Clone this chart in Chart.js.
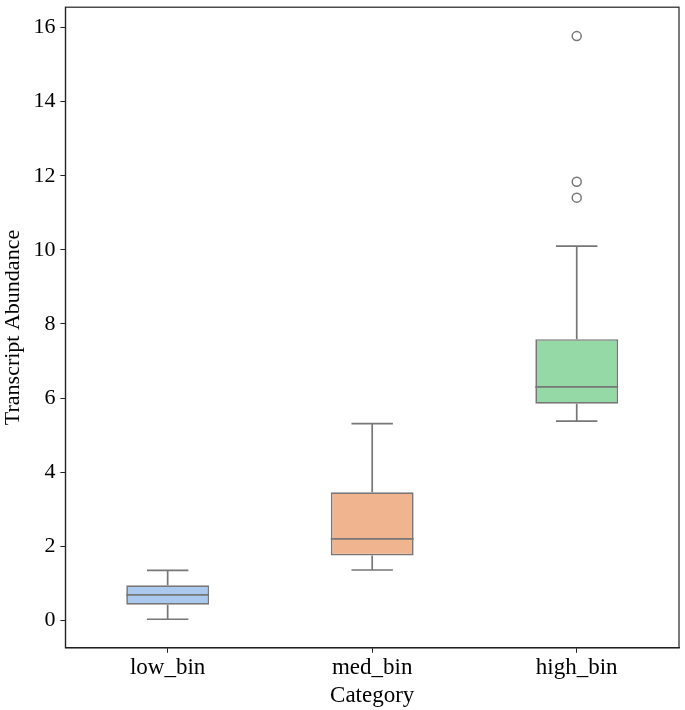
<!DOCTYPE html>
<html>
<head>
<meta charset="utf-8">
<script src="https://cdn.jsdelivr.net/npm/chart.js@4.4.1/dist/chart.umd.min.js"></script>
<style>
  html, body { margin: 0; padding: 0; background: #fff; }
  #wrap { width: 685px; height: 710px; }
</style>
</head>
<body>
<div id="wrap"><canvas id="boxChart"></canvas></div>
<script>
const categories = ['low_bin', 'med_bin', 'high_bin'];
const whiskerLow = [0.03, 1.36, 5.38];
const q1 = [0.42, 1.75, 5.85];
const median = [0.69, 2.20, 6.30];
const q3 = [0.95, 3.46, 7.59];
const whiskerHigh = [1.35, 5.31, 10.10];
const outlierCat = ['high_bin', 'high_bin', 'high_bin'];
const outlierVal = [15.77, 11.84, 11.41];
const yTicks = [0, 2, 4, 6, 8, 10, 12, 14, 16];

const boxColors = ['#abc8ee', '#f0b58e', '#94d9a6'];
const lineColor = '#777777';
const fontFamily = '"Liberation Serif", "DejaVu Serif", serif';

// whiskers, caps, medians and the frame around the plot
const boxExtras = {
  id: 'boxExtras',
  afterDatasetsDraw(chart) {
    const ctx = chart.ctx;
    const x = chart.scales.x;
    const y = chart.scales.y;
    const bars = chart.getDatasetMeta(0).data;
    ctx.save();
    ctx.strokeStyle = lineColor;
    ctx.lineWidth = 1.7;
    categories.forEach((c, i) => {
      const cx = x.getPixelForValue(i);
      const half = bars[i].width / 2;
      const cap = half / 2;
      ctx.beginPath();
      ctx.moveTo(cx, y.getPixelForValue(q3[i]));
      ctx.lineTo(cx, y.getPixelForValue(whiskerHigh[i]));
      ctx.moveTo(cx - cap, y.getPixelForValue(whiskerHigh[i]));
      ctx.lineTo(cx + cap, y.getPixelForValue(whiskerHigh[i]));
      ctx.moveTo(cx, y.getPixelForValue(q1[i]));
      ctx.lineTo(cx, y.getPixelForValue(whiskerLow[i]));
      ctx.moveTo(cx - cap, y.getPixelForValue(whiskerLow[i]));
      ctx.lineTo(cx + cap, y.getPixelForValue(whiskerLow[i]));
      ctx.moveTo(cx - half, y.getPixelForValue(median[i]));
      ctx.lineTo(cx + half, y.getPixelForValue(median[i]));
      ctx.stroke();
    });
    const a = chart.chartArea;
    ctx.strokeStyle = '#222';
    ctx.lineWidth = 1.2;
    ctx.strokeRect(a.left, a.top, a.right - a.left, a.bottom - a.top);
    ctx.restore();
  }
};

new Chart(document.getElementById('boxChart'), {
  data: {
    labels: categories,
    datasets: [{
      type: 'bar',
      data: categories.map((c, i) => [q1[i], q3[i]]),
      backgroundColor: boxColors,
      borderColor: lineColor,
      borderWidth: 1.7,
      borderSkipped: false,
      barPercentage: 0.405,
      categoryPercentage: 1.0
    }, {
      type: 'line',
      data: outlierCat.map((c, i) => ({ x: c, y: outlierVal[i] })),
      showLine: false,
      pointRadius: 4.5,
      pointBorderWidth: 1.5,
      pointBorderColor: lineColor,
      pointBackgroundColor: 'rgba(0,0,0,0)'
    }]
  },
  options: {
    responsive: true,
    maintainAspectRatio: false,
    animation: false,
    devicePixelRatio: 1,
    layout: { padding: { top: 1, right: 4, left: 0, bottom: 0 } },
    plugins: {
      legend: { display: false },
      tooltip: { enabled: false }
    },
    scales: {
      x: {
        type: 'category',
        offset: true,
        grid: { display: true, offset: false, drawOnChartArea: false, drawTicks: true, tickLength: 5, color: '#222' },
        border: { display: true, color: '#222', width: 1.2 },
        ticks: { color: '#000', font: { family: fontFamily, size: 23 }, padding: 1, maxRotation: 0 },
        title: { display: true, text: 'Category', color: '#000', font: { family: fontFamily, size: 23 }, padding: { top: 0, bottom: 0 } }
      },
      y: {
        type: 'linear',
        min: -0.74,
        max: 16.55,
        afterBuildTicks: s => { s.ticks = yTicks.map(v => ({ value: v })); },
        grid: { display: true, drawOnChartArea: false, drawTicks: true, tickLength: 5, color: '#222' },
        border: { display: true, color: '#222', width: 1.2 },
        ticks: { color: '#000', font: { family: fontFamily, size: 22, lineHeight: 0.2 }, padding: 5 },
        title: { display: true, text: 'Transcript Abundance', color: '#000', font: { family: fontFamily, size: 22 }, padding: { top: 0, bottom: 2 } }
      }
    }
  },
  plugins: [boxExtras]
});
</script>
</body>
</html>
